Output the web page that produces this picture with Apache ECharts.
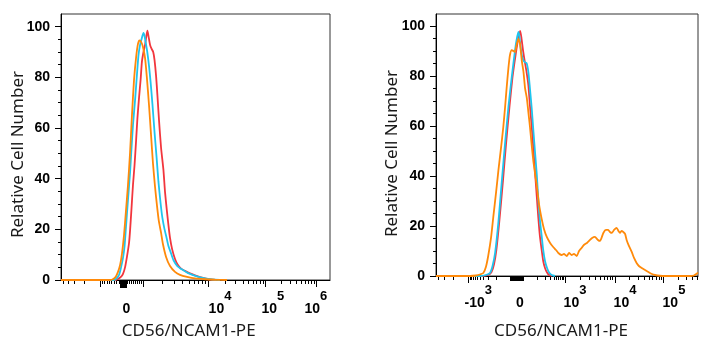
<!DOCTYPE html>
<html><head><meta charset="utf-8">
<script src="https://cdn.jsdelivr.net/npm/echarts@6/dist/echarts.min.js"></script>
<style>html,body{margin:0;padding:0;background:#fff}#c{width:711px;height:350px}</style>
</head><body><div id="c"></div>
<script>
// ---------- DATA: x = display channel (0-1024) on the biexponential axis, y = relative cell number ----------
const leftRed = [[0,0],[209,0],[217,0.4],[228,1.2],[236,2.4],[244,5.1],[251,9.1],[259,14.6],[263,19.7],[268,27.6],[274,37.5],[280,45.4],[286,55.3],[291,64.0],[297,71.9],[303,79.0],[308,86.1],[314,90.0],[320,92.8],[325,96.3],[329,98.4],[333,96.3],[339,92.8],[345,91.2],[351,90.0],[356,86.9],[362,80.5],[367,73.0],[373,63.2],[381,52.1],[390,43.4],[396,34.7],[402,28.4],[409,21.7],[415,16.6],[423,12.2],[434,8.3],[445,5.9],[457,4.5],[472,3.6],[491,2.6],[510,1.8],[529,1.1],[548,0.6],[567,0.2],[590,0]];
const leftCyan = [[0,0],[198,0],[209,0.4],[221,2.0],[228,4.7],[236,8.7],[242,13.4],[247,20.5],[255,31.6],[263,42.6],[268,51.3],[274,61.2],[282,71.1],[289,80.9],[295,88.8],[301,92.8],[306,94.8],[314,97.5],[318,96.3],[324,92.8],[329,89.6],[335,84.5],[341,78.2],[348,69.5],[356,58.4],[364,48.2],[371,38.7],[379,30.4],[386,24.5],[394,20.1],[402,16.6],[409,13.4],[417,11.1],[428,7.9],[443,5.5],[463,4.0],[482,2.8],[501,2.0],[523,1.2],[548,0.6],[575,0.2],[605,0]];
const leftOrange = [[0,0],[187,0],[199,0.4],[209,1.4],[217,3.2],[225,5.9],[232,10.3],[240,17.8],[247,26.9],[255,37.5],[263,50.5],[270,64.8],[278,79.0],[286,88.0],[293,93.2],[299,94.6],[305,94.0],[312,92.0],[320,87.6],[327,79.8],[335,69.1],[343,56.9],[350,46.2],[358,36.7],[366,28.8],[373,22.9],[381,18.6],[388,14.2],[400,9.1],[415,5.5],[434,3.2],[453,2.0],[480,1.2],[510,0.6],[548,0.3],[586,0.1],[632,0]];

const rightRed = [[0,0],[180,0],[203,0.4],[217,1.6],[227,4.8],[236,10.4],[248,22.4],[262,38.4],[274,53.1],[287,67.5],[299,79.5],[311,88.3],[319,93.5],[324,95.9],[329,97.9],[334,95.1],[340,90.3],[346,86.3],[354,81.5],[361,76.3],[367,68.3],[374,59.9],[381,50.3],[387,41.5],[394,31.6],[400,23.2],[406,16.0],[413,10.4],[419,6.0],[426,3.2],[434,1.4],[442,0.4],[453,0]];
const rightCyan = [[0,0],[172,0],[195,0.4],[211,1.2],[221,4.0],[231,9.2],[244,21.6],[257,37.6],[270,53.1],[283,67.5],[296,79.5],[309,90.3],[315,94.3],[322,97.5],[326,95.9],[330,91.9],[338,87.1],[346,85.5],[354,85.1],[361,81.5],[367,75.1],[374,67.1],[381,57.5],[387,49.5],[394,40.4],[400,30.4],[406,22.4],[413,16.0],[419,10.4],[426,6.0],[434,3.2],[442,1.4],[452,0.4],[465,0]];
const rightOrange = [[0,0],[133,0],[156,0.2],[172,0.6],[185,1.2],[195,3.6],[204,8.0],[215,15.2],[224,23.6],[235,33.6],[244,42.3],[254,51.1],[263,59.5],[270,67.5],[276,75.1],[283,83.1],[289,88.3],[296,90.3],[303,89.9],[309,89.5],[315,92.3],[322,94.7],[328,93.1],[335,86.3],[342,81.5],[348,75.1],[355,71.1],[361,65.5],[367,59.9],[374,52.3],[381,45.5],[394,36.0],[403,28.4],[413,22.8],[422,18.8],[433,15.6],[446,13.2],[458,11.6],[469,10.4],[478,9.2],[491,8.4],[500,8.8],[511,8.0],[520,9.2],[530,8.4],[539,8.8],[550,8.0],[559,10.0],[569,11.2],[578,12.4],[590,13.2],[602,14.4],[610,15.2],[621,15.6],[633,14.4],[641,14.0],[654,17.2],[664,18.4],[673,18.4],[680,17.6],[687,17.2],[696,18.4],[706,19.2],[713,18.0],[719,17.2],[725,18.0],[732,17.6],[739,16.8],[745,14.4],[754,12.0],[765,9.6],[774,7.2],[784,5.2],[793,4.0],[804,3.2],[817,2.4],[830,1.6],[844,0.8],[856,0.4],[875,0.1],[895,0],[993,0],[1008,0.2],[1020,1.0],[1024,1.4]];

// y axis ticks
const yTicks = [0, 20, 40, 60, 80, 100];
const yMinorTicks = [5,10,15,25,30,35,45,50,55,65,70,75,85,90,95];

// biexponential axis anchors: channel of 0, -10^3, +10^3 and of each decade 10^3, 10^4, ...
const leftAnchors  = {zero: 237.9, m1k: 148.5, p1k: 312.2, decades: [312.2, 561.5, 778.5, 972.7], negDecade: 202, c: 5000, block: 7, blockLen: 8};
const rightAnchors = {zero: 316.5, m1k: 127.0, p1k: 504.1, decades: [504.1, 699.5, 889.1], negDecade: 195.4, c: 40, block: 14, blockLen: 5};
const leftMajorValues  = [-1e3, 1e3, 1e4, 1e5, 1e6];
const rightMajorValues = [-1e3, 1e3, 1e4, 1e5];
// tick labels: [channel of label centre, base, exponent]
const leftTickLabels  = [[248.6, '0', ''], [605.3, '10', '4'], [806.3, '10', '5'], [970.0, '10', '6']];
const rightTickLabels = [[165.3, '-10', '3'], [328.3, '0', ''], [543.2, '10', '3'], [738.6, '10', '4'], [930.1, '10', '5']];

const xTitle = 'CD56/NCAM1-PE';
const yTitle = 'Relative Cell Number';
const colors = {red: '#f2363d', cyan: '#1fc5ee', orange: '#ff8a0a'};

// ---------- axis helpers ----------
function makePos(a) {
  return function (v) {
    if (v === 0) return a.zero;
    const s = Math.sign(v), m = Math.abs(v);
    if (m <= 1000) {
      const f = Math.asinh(m / a.c) / Math.asinh(1000 / a.c);
      return s > 0 ? a.zero + (a.p1k - a.zero) * f : a.zero - (a.zero - a.m1k) * f;
    }
    const d = Math.log10(m / 1000);
    if (s < 0) return a.m1k - d * a.negDecade;
    const n = Math.floor(d + 1e-9);
    const i = Math.min(n, a.decades.length - 2);
    return a.decades[i] + (d - i) * (a.decades[i + 1] - a.decades[i]);
  };
}
function minorValues() {
  const out = [];
  for (let k = 1; k <= 9; k++) { out.push(k * 100, -k * 100); }
  for (let n = 3; n <= 6; n++) for (let k = 2; k <= 9; k++) out.push(k * Math.pow(10, n));
  for (let k = 2; k <= 9; k++) out.push(-k * 1000);
  return out;
}

const FONT = 'Liberation Sans, Arial, sans-serif';
const baseTok = {fontFamily: FONT, fontWeight: 'bold', color: '#000'};
const rich = {
  b:   Object.assign({fontSize: 14, lineHeight: 14, padding: [0, 7.2, 0, 0]}, baseTok),
  s:   Object.assign({fontSize: 13, lineHeight: 11, padding: [0, 0, 0, 15.6]}, baseTok),
  sm:  Object.assign({fontSize: 13, lineHeight: 11, padding: [0, 0, 0, 20.2]}, baseTok),
  z:   Object.assign({fontSize: 14, lineHeight: 14}, baseTok),
  gap: Object.assign({fontSize: 13, lineHeight: 11}, baseTok)
};

const grids = [
  {left: 61, top: 14, width: 269, height: 266, show: true, borderColor: '#333', borderWidth: 1},
  {left: 436, top: 14, width: 262, height: 262, show: true, borderColor: '#333', borderWidth: 1}
];
const xAxes = [], yAxes = [], series = [];

function buildPanel(gi, anchors, majors, labels, yMax, data, labelMargin) {
  const pos = makePos(anchors);
  const majorCh = majors.map(pos);
  const minorCh = minorValues().map(pos).filter(p => p > 0.5 && p < 1023.5);
  const base = {type: 'value', gridIndex: gi, position: 'bottom', min: 0, max: 1024, splitLine: {show: false}};
  const mainIdx = xAxes.length;
  xAxes.push(Object.assign({}, base, {
    axisLine: {show: true, onZero: false, lineStyle: {color: '#000', width: 1}},
    axisTick: {show: true, customValues: majorCh, length: 7, lineStyle: {color: '#000', width: 1}},
    axisLabel: {show: false}
  }));
  xAxes.push(Object.assign({}, base, {
    axisLine: {show: false, onZero: false},
    axisTick: {show: true, customValues: minorCh, length: 4, lineStyle: {color: '#000', width: 1}},
    axisLabel: {show: false}
  }));
  xAxes.push(Object.assign({}, base, {
    axisLine: {show: false, onZero: false},
    axisTick: {show: true, customValues: [anchors.zero], length: anchors.blockLen, lineStyle: {color: '#000', width: anchors.block, cap: 'butt'}},
    axisLabel: {show: false}
  }));
  xAxes.push(Object.assign({}, base, {
    axisLine: {show: false, onZero: false},
    axisTick: {show: false},
    axisLabel: {
      show: true, customValues: labels.map(l => l[0]), margin: labelMargin, rich: rich, align: 'center',
      formatter: function (v) {
        const l = labels.find(t => Math.abs(t[0] - v) < 0.5);
        if (!l) return '';
        if (!l[2]) return '{gap| }\n{z|' + l[1] + '}';
        const sup = l[1].length > 2 ? 'sm' : 's';
        return '{' + sup + '|' + l[2] + '}\n{b|' + l[1] + '}';
      }
    }
  }));
  const yMain = yAxes.length;
  yAxes.push({
    type: 'value', gridIndex: gi, position: 'left', min: 0, max: yMax, splitLine: {show: false},
    axisLine: {show: true, onZero: false, lineStyle: {color: '#000', width: 1}},
    axisTick: {show: true, customValues: yTicks, length: 6, lineStyle: {color: '#000'}},
    axisLabel: {show: true, customValues: yTicks, margin: 11, fontFamily: FONT, fontWeight: 'bold', fontSize: 14, color: '#000'}
  });
  yAxes.push({
    type: 'value', gridIndex: gi, position: 'left', min: 0, max: yMax, splitLine: {show: false},
    axisLine: {show: false, onZero: false},
    axisTick: {show: true, customValues: yMinorTicks, length: 3, lineStyle: {color: '#000'}},
    axisLabel: {show: false}
  });
  [['red', data[0]], ['cyan', data[1]], ['orange', data[2]]].forEach(([c, d], k) => {
    series.push({
      type: 'line', xAxisIndex: mainIdx, yAxisIndex: yMain, data: d, symbol: 'none', showSymbol: false,
      smooth: 0.2, clip: true, z: 2 + k, lineStyle: {color: colors[c], width: 1.8}, silent: true
    });
  });
}

buildPanel(0, leftAnchors, leftMajorValues, leftTickLabels, 105, [leftRed, leftCyan, leftOrange], 11);
buildPanel(1, rightAnchors, rightMajorValues, rightTickLabels, 104.7, [rightRed, rightCyan, rightOrange], 9);

const titleStyle = {fontFamily: '"Noto Sans", "Open Sans", sans-serif', fontSize: 17, fill: '#1a1a1a', textAlign: 'center', textVerticalAlign: 'middle'};
const graphic = [
  {type: 'text', x: 188.7, y: 331, style: Object.assign({text: xTitle}, titleStyle)},
  {type: 'text', x: 561, y: 331, style: Object.assign({text: xTitle}, titleStyle)},
  {type: 'text', x: 18, y: 154.5, rotation: Math.PI / 2, style: Object.assign({text: yTitle}, titleStyle)},
  {type: 'text', x: 391.7, y: 153.5, rotation: Math.PI / 2, style: Object.assign({text: yTitle}, titleStyle)}
];

const chart = echarts.init(document.getElementById('c'), null, {renderer: 'canvas'});
chart.setOption({
  animation: false,
  backgroundColor: '#fff',
  grid: grids, xAxis: xAxes, yAxis: yAxes, series: series, graphic: graphic
});
</script></body></html>
